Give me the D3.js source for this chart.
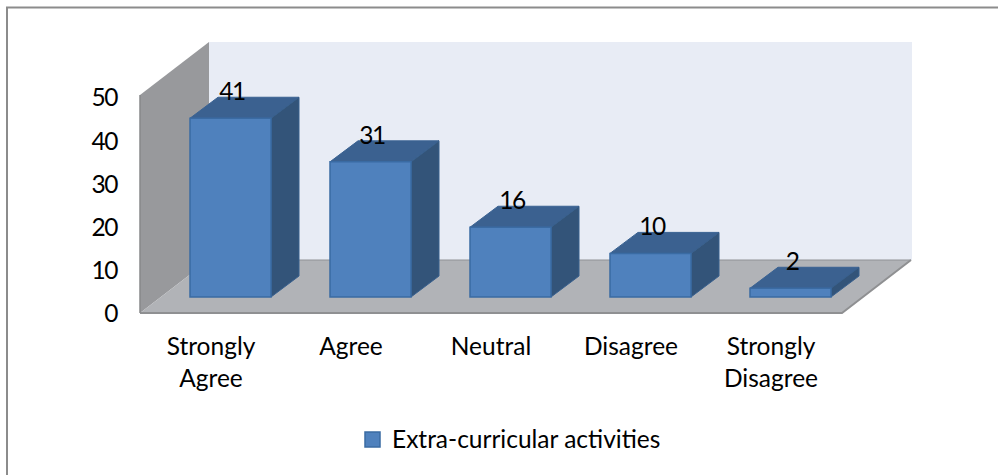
<!DOCTYPE html>
<html>
<head>
<meta charset="utf-8">
<script src="https://cdn.jsdelivr.net/npm/d3@7"></script>
<style>
html, body { margin: 0; padding: 0; background: #fff; }
svg { display: block; font-family: Lato, "Open Sans", sans-serif; }
</style>
</head>
<body>
<svg width="998" height="475"></svg>
<script>
var categories = [["Strongly", "Agree"], ["Agree"], ["Neutral"], ["Disagree"], ["Strongly", "Disagree"]];
var values = [41, 31, 16, 10, 2];
var yTicks = [0, 10, 20, 30, 40, 50];
var seriesName = "Extra-curricular activities";

var svg = d3.select("svg");
var keys = d3.range(values.length);
var fontSize = 24.5;

// frame, only left and top are in the picture
svg.append("path")
    .attr("d", "M7,475V7.5H998")
    .attr("fill", "none")
    .attr("stroke", "#8c8c8c")
    .attr("stroke-width", 2);

// the 3d box: front plane, plus how far the back plane is shifted
var depth = {x: 69, y: -53};
var barDepth = {x: 28, y: -21};
var barShift = {x: 20, y: -16};

var scX = d3.scaleBand().domain(keys).range([140, 840]).paddingInner(3 / 7).paddingOuter(3 / 14);
var scY = d3.scaleLinear().domain([0, 50]).range([313, 95]);
// tick labels sit a little tighter than the wall itself
var scTick = d3.scaleLinear().domain([0, 50]).range([313, 97]);

var poly = function(pts, fill, stroke, sw){
    return svg.append("path")
        .attr("d", d3.line()(pts) + "Z")
        .attr("fill", fill)
        .attr("stroke", stroke || "none")
        .attr("stroke-width", sw || 0);
};

var x0 = scX.range()[0], x1 = scX.range()[1] + 2;
var y0 = scY(0), y50 = scY(50);

// back wall
poly([[x0 + depth.x, y50 + depth.y], [x1 + depth.x + 1, y50 + depth.y], [x1 + depth.x + 1, y0 + depth.y], [x0 + depth.x, y0 + depth.y]], "#e8ecf5");
// left wall
poly([[x0, y50], [x0 + depth.x, y50 + depth.y], [x0 + depth.x, y0 + depth.y], [x0, y0]], "#98999c");
// floor
poly([[x0, y0], [x0 + depth.x, y0 + depth.y], [x1 + depth.x, y0 + depth.y], [x1, y0]], "#b1b3b7");
svg.append("path")
    .attr("d", d3.line()([[x0, y0], [x1, y0], [x1 + depth.x, y0 + depth.y]]))
    .attr("fill", "none").attr("stroke", "#8f9092").attr("stroke-width", 2);
svg.append("path")
    .attr("d", d3.line()([[x0, y50], [x0, y0]]))
    .attr("fill", "none").attr("stroke", "#87888a").attr("stroke-width", 1.5);
svg.append("path")
    .attr("d", d3.line()([[x0 + depth.x, y0 + depth.y], [x1 + depth.x, y0 + depth.y]]))
    .attr("fill", "none").attr("stroke", "#909295").attr("stroke-width", 1);

// bars
values.forEach(function(v, i){
    var l = scX(i) + barShift.x, r = l + scX.bandwidth() + 1;
    var t = scY(v) + barShift.y, b = y0 + barShift.y;
    var dx = barDepth.x, dy = barDepth.y;
    poly([[l, t], [l + dx, t + dy], [r + dx, t + dy], [r, t]], "#3b6190", "#3a6292", 1);
    poly([[r, t], [r + dx, t + dy], [r + dx, b + dy], [r, b]], "#335479", "#38608e", 1);
    poly([[l, t], [r, t], [r, b], [l, b]], "#4f81bd", "#3a6ba3", 1.5);
});

// data labels
svg.append("g").selectAll("text")
    .data(values).enter()
    .append("text")
    .attr("x", (d, i) => scX(i) + barShift.x + scX.bandwidth() / 2 + 2)
    .attr("y", d => scY(d) + barShift.y + barDepth.y + 3)
    .attr("text-anchor", "middle")
    .attr("font-size", fontSize)
    .attr("letter-spacing", -1.5)
    .attr("fill", "#000")
    .text(d => d);

// y axis
var axisY = svg.append("g")
    .attr("transform", "translate(117,1)")
    .call(d3.axisLeft(scTick).tickValues(yTicks).tickSize(0).tickPadding(0));
axisY.select(".domain").remove();
axisY.selectAll("text")
    .attr("font-family", "Lato, sans-serif")
    .attr("font-size", fontSize)
    .attr("letter-spacing", -1.5)
    .attr("fill", "#000");

// category labels
var gCat = svg.append("g").selectAll("text")
    .data(categories).enter()
    .append("text")
    .attr("text-anchor", "middle")
    .attr("font-size", fontSize)
    .attr("fill", "#000");
gCat.selectAll("tspan")
    .data((d, i) => d.map(s => ({s: s, i: i})))
    .enter().append("tspan")
    .attr("x", d => scX(d.i) + scX.bandwidth() / 2 + 1)
    .attr("y", (d, j) => 355 + j * 32)
    .text(d => d.s);

// legend
svg.append("rect")
    .attr("x", 365).attr("y", 432).attr("width", 15).attr("height", 15)
    .attr("fill", "#4f81bd").attr("stroke", "#3a6ba3").attr("stroke-width", 1.5);
svg.append("text")
    .attr("x", 392).attr("y", 448)
    .attr("font-size", fontSize)
    .attr("fill", "#000")
    .text(seriesName);
</script>
</body>
</html>
